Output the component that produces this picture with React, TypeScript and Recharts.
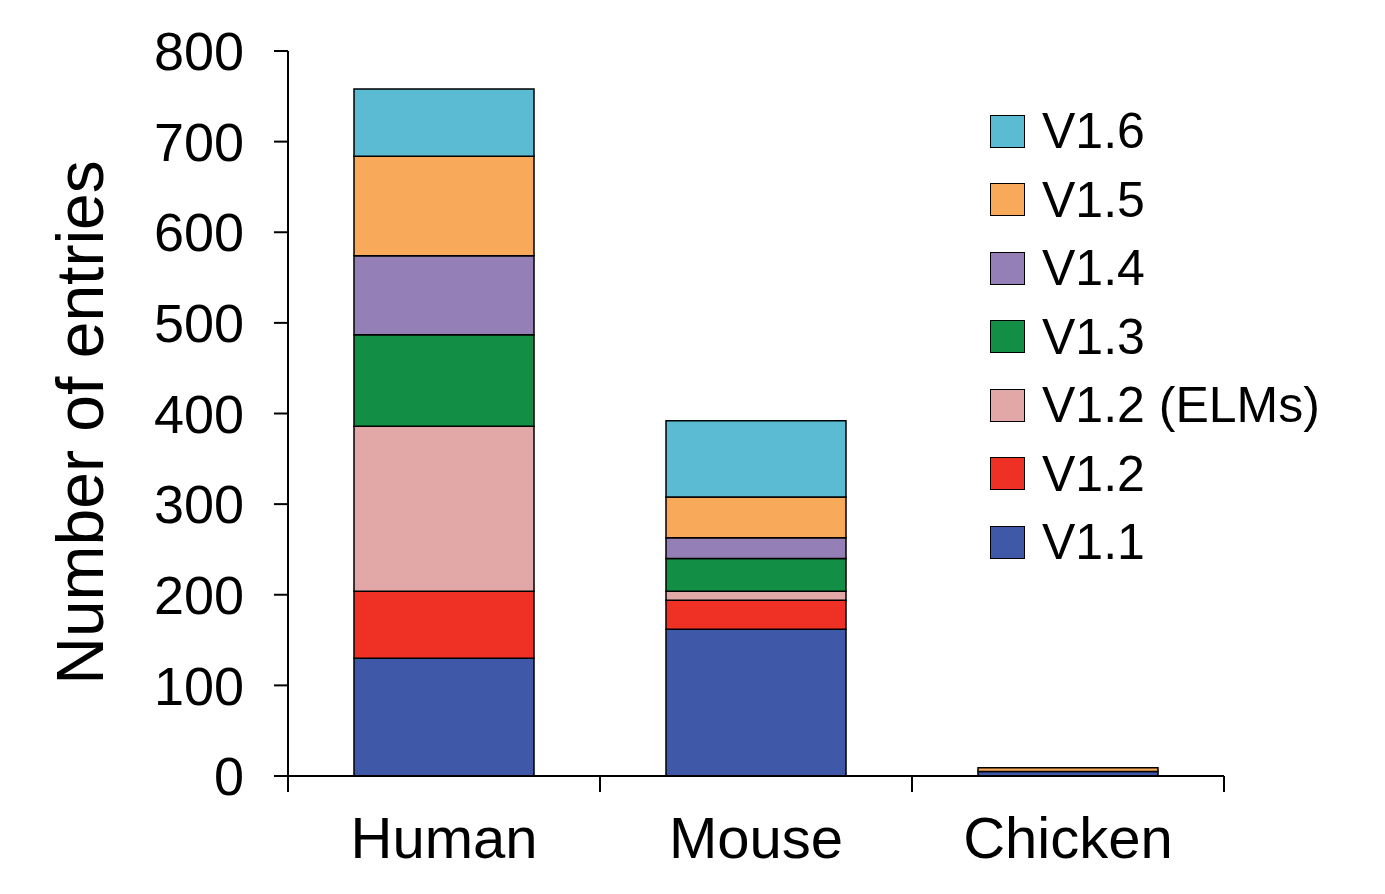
import { BarChart, Bar, XAxis, YAxis } from 'recharts'

const species = ['Human', 'Mouse', 'Chicken']
const v11 = [130, 162, 5]
const v12 = [74, 32, 0]
const v12elm = [182, 10, 0]
const v13 = [101, 36, 0]
const v14 = [87, 23, 0]
const v15 = [110, 45, 4]
const v16 = [74, 84, 0]
const yTicks = [0, 100, 200, 300, 400, 500, 600, 700, 800]

const SERIES = [
  { key: 'v11', name: 'V1.1', values: v11, color: '#3f59a8' },
  { key: 'v12', name: 'V1.2', values: v12, color: '#ee3124' },
  { key: 'v12elm', name: 'V1.2 (ELMs)', values: v12elm, color: '#e2a7a7' },
  { key: 'v13', name: 'V1.3', values: v13, color: '#128f45' },
  { key: 'v14', name: 'V1.4', values: v14, color: '#9480b6' },
  { key: 'v15', name: 'V1.5', values: v15, color: '#f8a95a' },
  { key: 'v16', name: 'V1.6', values: v16, color: '#5abbd3' },
]

const data = species.map((s, i) => {
  const row: Record<string, string | number> = { species: s }
  for (const ser of SERIES) row[ser.key] = ser.values[i]
  return row
})

const W = 1385
const H = 894
const MARGIN = { top: 51, right: 161, bottom: 0, left: 0 }
const Y_WIDTH = 288
const BAND = (W - MARGIN.left - MARGIN.right - Y_WIDTH) / species.length
const FONT = '"Liberation Sans", Arial, sans-serif'

function SpeciesTick(props: any) {
  const { x, y, payload, index } = props
  const last = index === species.length - 1
  return (
    <g>
      <line x1={x - BAND / 2} x2={x - BAND / 2} y1={y} y2={y + 16} stroke="#000" strokeWidth={2} />
      {last && <line x1={x + BAND / 2} x2={x + BAND / 2} y1={y} y2={y + 16} stroke="#000" strokeWidth={2} />}
      <text x={x} y={y + 82} textAnchor="middle" fontSize={58} fill="#000" fontFamily={FONT}>
        {payload.value}
      </text>
    </g>
  )
}

function YTitle(props: any) {
  const { viewBox } = props
  const cx = 80
  const cy = viewBox.y + viewBox.height / 2 + 9
  return (
    <text
      x={cx} y={cy} transform={`rotate(-90 ${cx} ${cy})`}
      textAnchor="middle" dominantBaseline="central"
      fontSize={66} fill="#000" fontFamily={FONT}
    >
      Number of entries
    </text>
  )
}

// legend sits over the plot's empty right side, newest version on top
function LegendBox() {
  const items = [...SERIES].reverse()
  return (
    <div style={{ position: 'absolute', left: 990, top: 97, fontFamily: FONT }}>
      {items.map((s) => (
        <div key={s.key} style={{ display: 'flex', alignItems: 'center', height: 68.5 }}>
          <div style={{ width: 33, height: 31, background: s.color, border: '1.5px solid #000', marginRight: 17 }} />
          <span style={{ fontSize: 50, color: '#000', whiteSpace: 'nowrap' }}>{s.name}</span>
        </div>
      ))}
    </div>
  )
}

export default function App() {
  return (
    <div style={{ position: 'absolute', left: 0, top: 0, width: W, height: H, background: '#fff' }}>
      <BarChart width={W} height={H} data={data} margin={MARGIN}>
        <XAxis
          dataKey="species"
          tickLine={false}
          tickSize={0}
          tickMargin={0}
          height={118}
          axisLine={{ stroke: '#000', strokeWidth: 2 }}
          tick={<SpeciesTick />}
          interval={0}
        />
        <YAxis
          type="number"
          domain={[0, 800]}
          ticks={yTicks}
          width={Y_WIDTH}
          tickSize={14}
          tickMargin={30}
          axisLine={{ stroke: '#000', strokeWidth: 2 }}
          tickLine={{ stroke: '#000', strokeWidth: 2 }}
          tick={{ fontSize: 54, fill: '#000', fontFamily: FONT }}
          label={<YTitle />}
        />
        {SERIES.map((s) => (
          <Bar
            key={s.key}
            dataKey={s.key}
            name={s.name}
            stackId="a"
            fill={s.color}
            stroke="#000"
            strokeWidth={1.5}
            barSize={180}
            isAnimationActive={false}
          />
        ))}
      </BarChart>
      <LegendBox />
    </div>
  )
}
